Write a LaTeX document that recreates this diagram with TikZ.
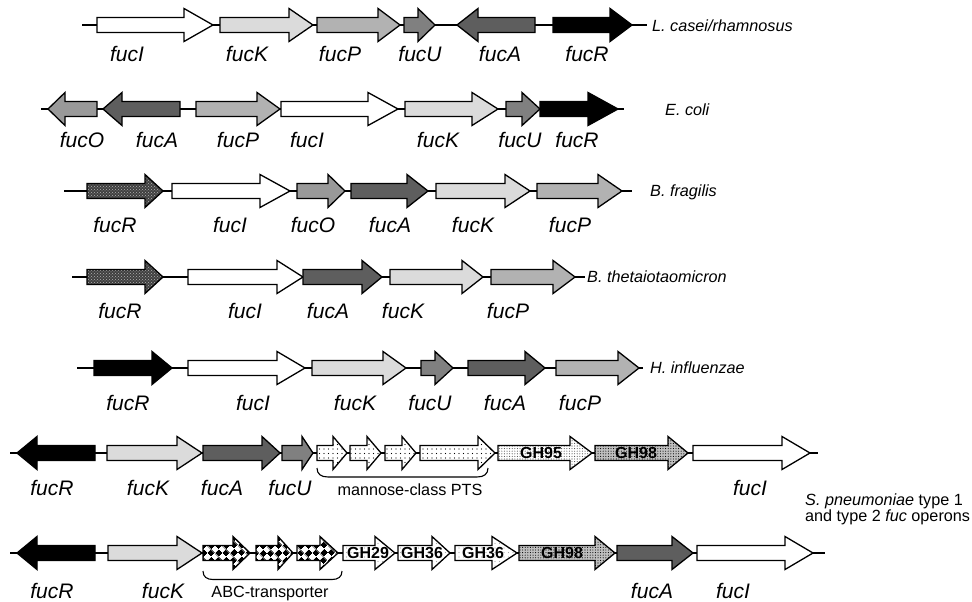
\documentclass[tikz,border=0pt]{standalone}
\usepackage{fontspec}
\setmainfont{Liberation Sans}
\usetikzlibrary{patterns,patterns.meta}

\definecolor{cK}{gray}{0.86}
\definecolor{cP}{gray}{0.70}
\definecolor{cO}{gray}{0.60}
\definecolor{cU}{gray}{0.50}
\definecolor{cA}{gray}{0.37}

% sparse dot texture for transporter / glycosidase genes
\tikzdeclarepattern{
  name=sparsedots,
  type=uncolored,
  bottom left={(-1pt,-1pt)},
  top right={(1pt,1pt)},
  tile size={(4.5pt,4.5pt)},
  code={\fill (0pt,0pt) circle [radius=0.6pt];}
}
\tikzdeclarepattern{
  name=densedots,
  type=uncolored,
  bottom left={(-1pt,-1pt)},
  top right={(1pt,1pt)},
  tile size={(2.6pt,2.6pt)},
  code={\fill (0pt,0pt) circle [radius=0.55pt];}
}
% black/white diamond checker for the ABC transporter genes
\tikzdeclarepattern{
  name=diamondcheck,
  type=colored,
  bottom left={(0pt,0pt)},
  top right={(10.6pt,10.6pt)},
  tile size={(10.6pt,10.6pt)},
  tile transformation={rotate=45},
  code={
    \fill[black] (0pt,0pt) rectangle (5.3pt,5.3pt);
    \fill[black] (5.3pt,5.3pt) rectangle (10.6pt,10.6pt);
  }
}

\newcommand\bodyh{7.5}
\newcommand\headh{16.5}
% #1 tail x, #2 head base x, #3 tip x, #4 axis y, #5 fill style
\newcommand\genearrow[5]{%
  \path[gene,#5] (#1,#4-\bodyh) -- (#2,#4-\bodyh) -- (#2,#4-\headh) -- (#3,#4)
    -- (#2,#4+\headh) -- (#2,#4+\bodyh) -- (#1,#4+\bodyh) -- cycle;}

\tikzset{
  gene/.style={draw=black, line width=1.3pt, line join=miter},
  fI/.style={fill=white},
  fK/.style={fill=cK},
  fP/.style={fill=cP},
  fO/.style={fill=cO},
  fU/.style={fill=cU},
  fA/.style={fill=cA},
  fR/.style={fill=black},
  hatchR/.style={preaction={fill=black!75}, pattern=crosshatch dots, pattern color=white!70!black},
  pts/.style={preaction={fill=white}, pattern=sparsedots, pattern color=black},
  gh95/.style={preaction={fill=white}, pattern=densedots, pattern color=black!70},
  gh98/.style={preaction={fill=black!25}, pattern=densedots, pattern color=black},
  ghlight/.style={preaction={fill=white}, pattern=sparsedots, pattern color=black!35},
  abc/.style={preaction={fill=white}, pattern=diamondcheck},
  backbone/.style={draw=black, line width=1.2pt},
  brace/.style={draw=black, line width=1.1pt},
  glab/.style={anchor=base, inner sep=0pt, font=\fontsize{21}{25}\selectfont\itshape},
  slab/.style={anchor=base west, inner sep=0pt, font=\fontsize{16.2}{19}\selectfont\itshape},
  plab/.style={anchor=base, inner sep=0pt, font=\fontsize{16.2}{19}\selectfont},
  ghlab/.style={inner sep=0pt, font=\fontsize{16}{18}\selectfont\bfseries},
}

\begin{document}
\begin{tikzpicture}[x=1pt, y=-1pt]
\useasboundingbox (0,0) rectangle (972,602);
\fill[white] (0,0) rectangle (972,602);

% ---------- L. casei / rhamnosus ----------
\path[backbone] (82,25) -- (647,25);
\genearrow{97}{184}{213}{25}{fI}
\genearrow{220}{289}{313}{25}{fK}
\genearrow{317}{378}{400}{25}{fP}
\genearrow{404}{418}{435}{25}{fU}
\genearrow{535}{478}{457}{25}{fA}
\genearrow{553}{610}{632}{25}{fR}
\node[glab] (a1) at (127,62) {fucI};
\node[glab] (a2) at (247,62) {fucK};
\node[glab] (a3) at (340,62) {fucP};
\node[glab] (a4) at (420,62) {fucU};
\node[glab] (a5) at (500,62) {fucA};
\node[glab] (a6) at (587,62) {fucR};
\node[slab] (sa) at (652,31.5) {L. casei/rhamnosus};

% ---------- E. coli ----------
\path[backbone] (41,109) -- (624,109);
\genearrow{97}{65}{48}{109}{fO}
\genearrow{180}{122}{103}{109}{fA}
\genearrow{196}{257}{280}{109}{fP}
\genearrow{281}{368}{398}{109}{fI}
\genearrow{405}{472}{498}{109}{fK}
\genearrow{506}{522}{540}{109}{fU}
\genearrow{540}{588}{618}{109}{fR}
\node[glab] (b1) at (82,147) {fucO};
\node[glab] (b2) at (157,147) {fucA};
\node[glab] (b3) at (238,147) {fucP};
\node[glab] (b4) at (307,147) {fucI};
\node[glab] (b5) at (438,147) {fucK};
\node[glab] (b6) at (520,147) {fucU};
\node[glab] (b7) at (577,147) {fucR};
\node[slab] (sb) at (665,115) {E. coli};

% ---------- B. fragilis ----------
\path[backbone] (64,191) -- (632,191);
\genearrow{87}{145}{163}{191}{hatchR}
\genearrow{172}{260}{290}{191}{fI}
\genearrow{297}{328}{345}{191}{fO}
\genearrow{351}{407}{428}{191}{fA}
\genearrow{436}{505}{530}{191}{fK}
\genearrow{537}{598}{622}{191}{fP}
\node[glab] (c1) at (115,232) {fucR};
\node[glab] (c2) at (230,232) {fucI};
\node[glab] (c3) at (313,232) {fucO};
\node[glab] (c4) at (390,232) {fucA};
\node[glab] (c5) at (473,232) {fucK};
\node[glab] (c6) at (570,232) {fucP};
\node[slab] (sc) at (650,196) {B. fragilis};

% ---------- B. thetaiotaomicron ----------
\path[backbone] (72,277) -- (585,277);
\genearrow{87}{145}{163}{277}{hatchR}
\genearrow{188}{277}{303}{277}{fI}
\genearrow{303}{362}{382}{277}{fA}
\genearrow{390}{462}{483}{277}{fK}
\genearrow{491}{553}{575}{277}{fP}
\node[glab] (d1) at (120,318) {fucR};
\node[glab] (d2) at (245,318) {fucI};
\node[glab] (d3) at (328,318) {fucA};
\node[glab] (d4) at (403,318) {fucK};
\node[glab] (d5) at (508,318) {fucP};
\node[slab] (sd) at (587,282) {B. thetaiotaomicron};

% ---------- H. influenzae ----------
\path[backbone] (77,368) -- (643,368);
\genearrow{94}{152}{172}{368}{fR}
\genearrow{188}{277}{305}{368}{fI}
\genearrow{312}{383}{406}{368}{fK}
\genearrow{421}{435}{453}{368}{fU}
\genearrow{468}{525}{545}{368}{fA}
\genearrow{556}{618}{639}{368}{fP}
\node[glab] (e1) at (128,410) {fucR};
\node[glab] (e2) at (253,410) {fucI};
\node[glab] (e3) at (355,410) {fucK};
\node[glab] (e4) at (430,410) {fucU};
\node[glab] (e5) at (505,410) {fucA};
\node[glab] (e6) at (580,410) {fucP};
\node[slab] (se) at (650,373) {H. influenzae};

% ---------- S. pneumoniae type 1 ----------
\path[backbone] (10,453) -- (818,453);
\genearrow{95}{37}{17}{453}{fR}
\genearrow{107}{177}{202}{453}{fK}
\genearrow{203}{262}{280}{453}{fA}
\genearrow{282}{302}{313}{453}{fU}
\genearrow{317}{333}{347}{453}{pts}
\genearrow{350}{367}{381}{453}{pts}
\genearrow{385}{402}{416}{453}{pts}
\genearrow{420}{478}{495}{453}{pts}
\genearrow{498}{570}{592}{453}{gh95}
\node[ghlab] (g1) at (541,453) {GH95};
\genearrow{595}{668}{688}{453}{gh98}
\node[ghlab] (g2) at (636,453) {GH98};
\genearrow{693}{782}{810}{453}{fI}
\path[brace] (317,468) .. controls (317,474) and (321,477) .. (328,477)
  -- (477,477) .. controls (484,477) and (488,474) .. (488,468);
\node[plab] (p1) at (410,495) {mannose-class PTS};
\node[glab] (f1) at (52,495) {fucR};
\node[glab] (f2) at (148,495) {fucK};
\node[glab] (f3) at (222,495) {fucA};
\node[glab] (f4) at (290,495) {fucU};
\node[glab] (f5) at (750,495) {fucI};

\node[anchor=base west, inner sep=0pt, font=\fontsize{16.2}{19}\selectfont] (sf1) at (805,505) {\textit{S. pneumoniae} type 1};
\node[anchor=base west, inner sep=0pt, font=\fontsize{16.2}{19}\selectfont] (sf2) at (805,521) {and type 2 \textit{fuc} operons};

% ---------- S. pneumoniae type 2 ----------
\path[backbone] (10,553) -- (825,553);
\genearrow{95}{37}{17}{553}{fR}
\genearrow{108}{177}{202}{553}{fK}
\genearrow{203}{233}{250}{553}{abc}
\genearrow{256}{278}{293}{553}{abc}
\genearrow{297}{320}{338}{553}{abc}
\genearrow{343}{375}{395}{553}{ghlight}
\node[ghlab] (g3) at (368,553) {GH29};
\genearrow{398}{432}{450}{553}{ghlight}
\node[ghlab] (g4) at (422,553) {GH36};
\genearrow{455}{492}{517}{553}{ghlight}
\node[ghlab] (g5) at (483,553) {GH36};
\genearrow{519}{595}{615}{553}{gh98}
\node[ghlab] (g6) at (562,553) {GH98};
\genearrow{617}{672}{693}{553}{fA}
\genearrow{697}{785}{813}{553}{fI}
\path[brace] (203,571) .. controls (203,577) and (207,579.5) .. (213,579.5)
  -- (332,579.5) .. controls (338,579.5) and (342,577) .. (342,571);
\node[plab] (p2) at (270,597) {ABC-transporter};
\node[glab] (h1) at (52,598) {fucR};
\node[glab] (h2) at (163,598) {fucK};
\node[glab] (h3) at (652,598) {fucA};
\node[glab] (h4) at (733,598) {fucI};
\end{tikzpicture}
\end{document}
